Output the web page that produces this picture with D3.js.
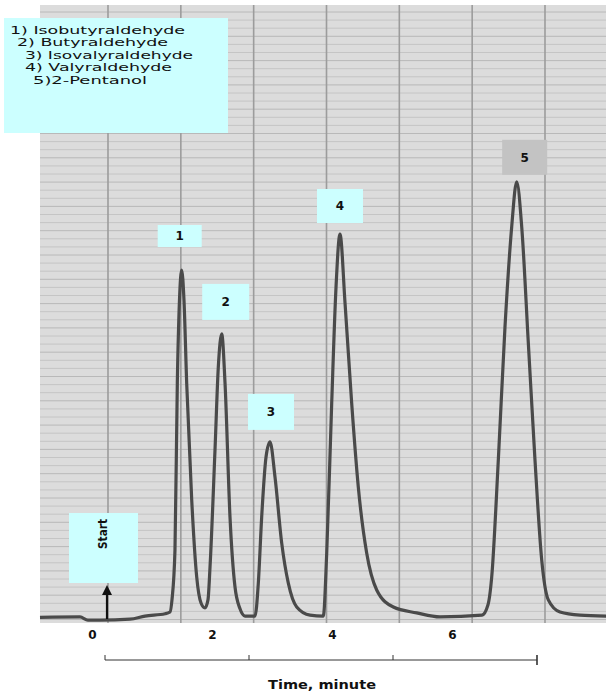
<!DOCTYPE html>
<html>
<head>
<meta charset="utf-8">
<script src="https://cdn.jsdelivr.net/npm/d3@7"></script>
<style>
  html, body { margin: 0; padding: 0; background: #ffffff; }
  svg { display: block; }
</style>
</head>
<body>
<div id="chart"></div>
<script>
// Chromatogram of five C4/C5 carbonyl/alcohol compounds

// Compound legend entries
const compounds = [
  "1) Isobutyraldehyde",
  "2) Butyraldehyde",
  "3) Isovalyraldehyde",
  "4) Valyraldehyde",
  "5)2-Pentanol"
];

// Detector trace: retention time (minutes) and signal (relative units)
const traceTime = [
  -0.867, -0.20, -0.067, 0.133, 0.633, 0.883, 1.217, 1.30, 1.333, 1.383,
  1.422, 1.458, 1.495, 1.533, 1.578, 1.662, 1.745, 1.817, 1.883, 1.933,
  1.967, 2.05, 2.105, 2.162, 2.217, 2.30, 2.383, 2.467, 2.55, 2.717,
  2.772, 2.828, 2.90, 2.967, 3.05, 3.162, 3.272, 3.412, 3.633, 3.855,
  3.912, 3.995, 4.067, 4.133, 4.217, 4.328, 4.438, 4.578, 4.745, 5.022,
  5.412, 5.80, 6.50, 6.60, 6.662, 6.772, 6.883, 6.995, 7.078, 7.162,
  7.272, 7.383, 7.495, 7.605, 7.80, 8.133, 8.567
];
const traceSignal = [
  0.8, 0.9, 0.2, 0.2, 0.4, 1.1, 1.6, 2.0, 4.7, 15.8,
  52.9, 71.3, 78.0, 71.3, 52.9, 26.9, 9.8, 4.0, 2.9, 4.7,
  12.0, 38.0, 56.4, 63.8, 52.9, 23.1, 7.6, 2.7, 1.1, 1.1,
  8.4, 23.1, 36.4, 39.8, 32.0, 17.3, 8.4, 3.1, 1.3, 1.1,
  15.1, 48.4, 74.2, 86.0, 70.7, 48.4, 29.8, 15.1, 6.9, 3.1,
  1.8, 0.9, 1.3, 3.6, 9.8, 35.8, 65.3, 87.6, 97.6, 87.6,
  61.8, 35.8, 13.6, 4.7, 2.0, 1.3, 1.1
];

// Peak apexes
const peakIds = ["1", "2", "3", "4", "5"];
const peakTimes = [1.495, 2.162, 2.967, 4.133, 7.078];
const peakHeights = [78.0, 63.8, 39.8, 86.0, 97.6];

// Injection marker and time axis labels
const startTime = 0.25;
const timeTicks = [0, 2, 4, 6];
const bracketDivisions = [0, 2, 4, 6];

const W = 606, H = 693;
const paper = { left: 40, top: 5, right: 606, bottom: 623 };

const svg = d3.select("#chart").append("svg")
  .attr("width", W).attr("height", H);

// Scales
const x = d3.scaleLinear().domain([0, 1]).range([92, 152]);   // minutes -> px
const y = d3.scaleLinear().domain([0, 100]).range([621, 171]); // signal -> px
const paperDiv = d3.scaleLinear().domain([0, 6]).range([108, 545]);
const bracketX = d3.scaleLinear().domain([0, 6]).range([105, 537]);

// Recorder paper
svg.append("rect")
  .attr("x", paper.left).attr("y", paper.top)
  .attr("width", paper.right - paper.left)
  .attr("height", paper.bottom - paper.top)
  .attr("fill", "#dcdcdc");

// Fine horizontal rulings
const hLines = d3.range(paper.top + 7, paper.bottom, 8.1);
svg.append("g").selectAll("line").data(hLines).join("line")
  .attr("x1", paper.left).attr("x2", paper.right)
  .attr("y1", d => d).attr("y2", d => d)
  .attr("stroke", (d, i) => i % 3 === 0 ? "#b4b4b4" : "#c2c2c2")
  .attr("stroke-width", 0.9);

// Major vertical rulings
svg.append("g").selectAll("line").data(d3.range(0, 7)).join("line")
  .attr("x1", d => paperDiv(d)).attr("x2", d => paperDiv(d))
  .attr("y1", paper.top).attr("y2", paper.bottom)
  .attr("stroke", "#9c9c9c")
  .attr("stroke-width", 1.6);

// Detector trace
const trace = traceTime.map((t, i) => [t, traceSignal[i]]);
svg.append("path")
  .datum(trace)
  .attr("fill", "none")
  .attr("stroke", "#4a4a4a")
  .attr("stroke-width", 3.2)
  .attr("stroke-linejoin", "round")
  .attr("d", d3.line()
    .x(d => x(d[0]))
    .y(d => y(d[1]))
    .curve(d3.curveMonotoneX));

// Peak labels
const labelLayout = [
  { dx: -2, gap: 23, w: 44, h: 22, fill: "#ccffff" },
  { dx: 4, gap: 14, w: 47, h: 36, fill: "#ccffff" },
  { dx: 1, gap: 12, w: 46, h: 36, fill: "#ccffff" },
  { dx: 0, gap: 11, w: 46, h: 34, fill: "#ccffff" },
  { dx: 8, gap: 7, w: 45, h: 35, fill: "#c3c3c3" }
];
const labels = svg.append("g").selectAll("g").data(peakIds).join("g")
  .attr("transform", (d, i) => {
    const L = labelLayout[i];
    const cx = x(peakTimes[i]) + L.dx;
    const bottom = y(peakHeights[i]) - L.gap;
    return `translate(${cx},${bottom - L.h / 2})`;
  });
labels.append("rect")
  .attr("x", (d, i) => -labelLayout[i].w / 2)
  .attr("y", (d, i) => -labelLayout[i].h / 2)
  .attr("width", (d, i) => labelLayout[i].w)
  .attr("height", (d, i) => labelLayout[i].h)
  .attr("fill", (d, i) => labelLayout[i].fill);
labels.append("text")
  .attr("text-anchor", "middle")
  .attr("dy", "0.35em")
  .attr("font-family", "DejaVu Sans, sans-serif")
  .attr("font-weight", "bold")
  .attr("font-size", 12)
  .attr("fill", "#111")
  .text(d => d);

// Start marker
const sx = x(startTime);
svg.append("rect")
  .attr("x", sx - 38).attr("y", 513)
  .attr("width", 69).attr("height", 70)
  .attr("fill", "#ccffff");
svg.append("text")
  .attr("transform", `translate(${sx - 5},534) rotate(-90)`)
  .attr("text-anchor", "middle")
  .attr("dy", "0.35em")
  .attr("font-family", "DejaVu Sans Condensed, DejaVu Sans, sans-serif")
  .attr("font-weight", "bold")
  .attr("font-size", 13)
  .attr("textLength", 30)
  .attr("lengthAdjust", "spacingAndGlyphs")
  .attr("fill", "#111")
  .text("Start");
svg.append("line")
  .attr("x1", sx).attr("x2", sx)
  .attr("y1", y(0) - 2).attr("y2", 592)
  .attr("stroke", "#111").attr("stroke-width", 2.2);
svg.append("path")
  .attr("d", `M${sx},585 L${sx - 5},595 L${sx + 5},595 Z`)
  .attr("fill", "#111");

// Legend
const legend = svg.append("g");
legend.append("rect")
  .attr("x", 4).attr("y", 18)
  .attr("width", 224).attr("height", 115)
  .attr("fill", "#ccffff");
const legendIndent = [10, 17, 25, 25, 33];
const legendWidth = [175, 151, 168, 147, 114];
legend.selectAll("text").data(compounds).join("text")
  .attr("x", (d, i) => legendIndent[i])
  .attr("y", (d, i) => 34 + i * 12.4)
  .attr("font-family", "DejaVu Sans, sans-serif")
  .attr("font-size", 10.5)
  .attr("textLength", (d, i) => legendWidth[i])
  .attr("lengthAdjust", "spacingAndGlyphs")
  .attr("fill", "#111")
  .text(d => d);

// Time axis numbers
const axis = svg.append("g")
  .attr("transform", "translate(0,630)")
  .call(d3.axisBottom(x).tickValues(timeTicks).tickSize(0).tickPadding(0)
    .tickFormat(d3.format("d")));
axis.select(".domain").remove();
axis.selectAll("text")
  .attr("font-family", "DejaVu Sans, sans-serif")
  .attr("font-weight", "bold")
  .attr("font-size", 12)
  .attr("fill", "#111");

// Time bracket below the numbers
const by = 660;
const bracket = svg.append("g").attr("stroke", "#333").attr("stroke-width", 1);
bracket.append("line")
  .attr("x1", bracketX(0)).attr("x2", bracketX(6))
  .attr("y1", by).attr("y2", by);
bracket.selectAll("line.tick").data(bracketDivisions).join("line")
  .attr("class", "tick")
  .attr("x1", d => bracketX(d)).attr("x2", d => bracketX(d))
  .attr("y1", by - 5)
  .attr("y2", (d, i) => i === bracketDivisions.length - 1 ? by + 5 : by)
  .attr("stroke-width", (d, i) => i === bracketDivisions.length - 1 ? 1.6 : 1);

svg.append("text")
  .attr("x", 322).attr("y", 689)
  .attr("text-anchor", "middle")
  .attr("font-family", "DejaVu Sans, sans-serif")
  .attr("font-weight", "bold")
  .attr("font-size", 13)
  .attr("textLength", 108)
  .attr("lengthAdjust", "spacingAndGlyphs")
  .attr("fill", "#111")
  .text("Time, minute");
</script>
</body>
</html>
